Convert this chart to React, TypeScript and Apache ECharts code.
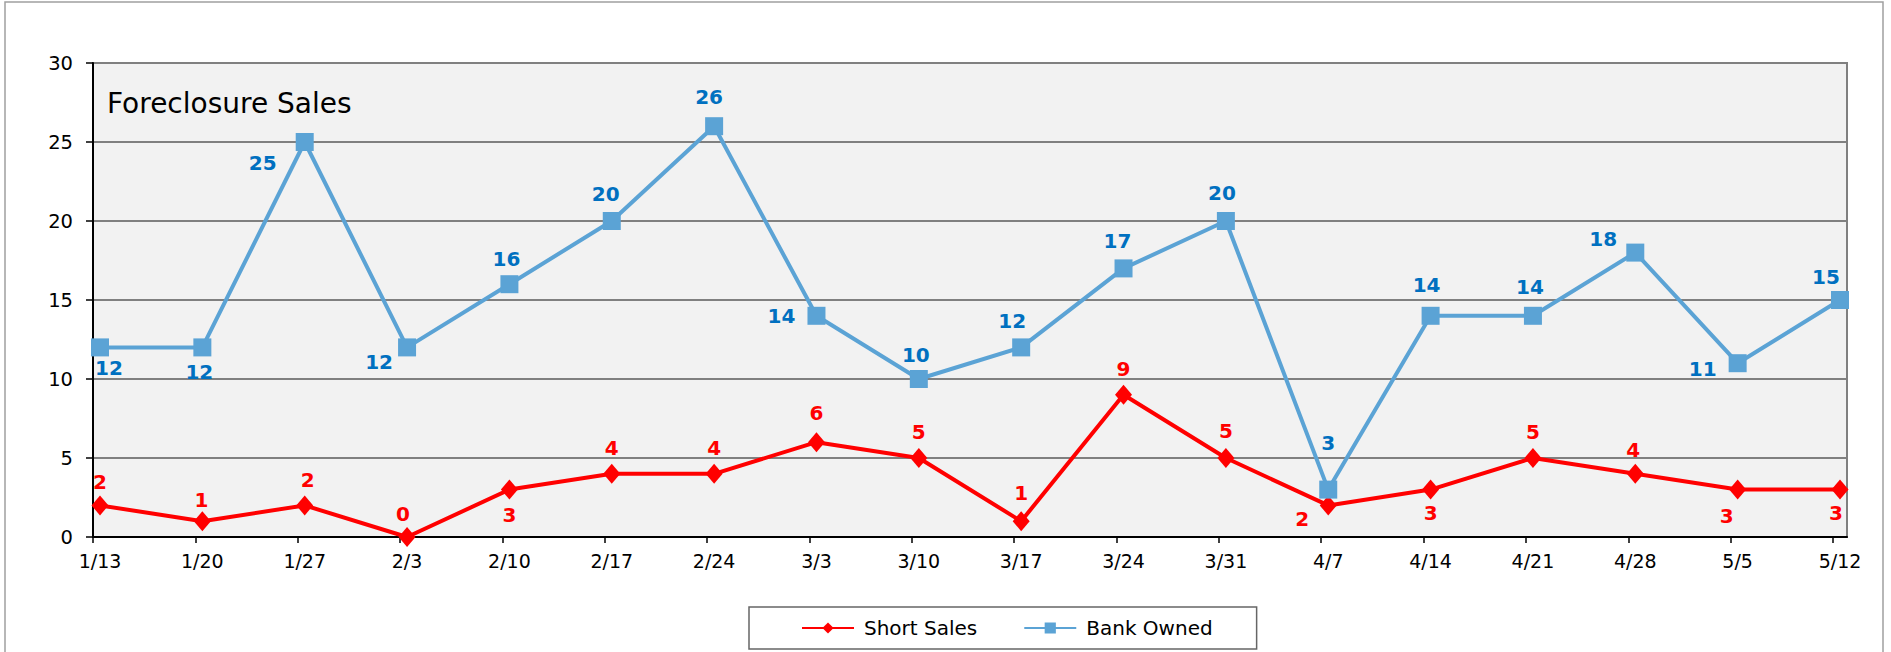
import React, { useEffect, useRef } from "react";
import * as echarts from "echarts";

const categories = ["1/13", "1/20", "1/27", "2/3", "2/10", "2/17", "2/24", "3/3", "3/10", "3/17", "3/24", "3/31", "4/7", "4/14", "4/21", "4/28", "5/5", "5/12"];
const shortSales = [2, 1, 2, 0, 3, 4, 4, 6, 5, 1, 9, 5, 2, 3, 5, 4, 3, 3];
const bankOwned = [12, 12, 25, 12, 16, 20, 26, 14, 10, 12, 17, 20, 3, 14, 14, 18, 11, 15];
const yTicks = { min: 0, max: 30, interval: 5 };

// label offsets (style only) relative to each marker centre
const shortLabelOffsets: [number, number][] = [
  [0, -23], [-1, -21], [3, -25], [-4, -23], [0, 25], [0, -26], [0, -26], [0, -29], [0, -26],
  [0, -28], [0, -26], [0, -27], [-26, 14], [0, 23], [0, -26], [-2, -24], [-11, 26], [-4, 23],
];
const bankLabelOffsets: [number, number][] = [
  [9, 21], [-3, 25], [-42, 21], [-28, 15], [-3, -25], [-6, -27], [-5, -29], [-35, 0], [-3, -24],
  [-9, -26], [-6, -27], [-4, -28], [0, -47], [-4, -31], [-3, -29], [-32, -14], [-35, 6], [-14, -23],
];

const FONT = "'DejaVu Sans', 'Noto Sans', sans-serif";

export default function App() {
  const ref = useRef<HTMLDivElement>(null);
  useEffect(() => {
    document.body.style.margin = "0";
    if (!ref.current) return;
    const chart = echarts.init(ref.current, undefined, { renderer: "svg" });
    const labelBase = {
      show: true,
      position: "inside",
      fontSize: 20,
      fontWeight: "bold" as const,
      fontFamily: FONT,
      textBorderWidth: 0,
    };
    chart.setOption({
      animation: false,
      textStyle: { fontFamily: FONT },
      title: {
        text: "Foreclosure Sales",
        left: 107,
        top: 89,
        padding: 0,
        textStyle: { fontSize: 28, fontWeight: "normal", color: "#000", fontFamily: FONT },
      },
      legend: {
        left: 749,
        top: 607,
        borderColor: "#666",
        borderWidth: 1.5,
        padding: [11, 44, 11, 52],
        itemGap: 46,
        itemWidth: 52,
        itemHeight: 14,
        textStyle: { fontSize: 20, color: "#000", fontFamily: FONT, padding: [0, 0, 0, 5] },
        data: ["Short Sales", "Bank Owned"],
      },
      graphic: [
        {
          type: "rect",
          silent: true,
          z: -10,
          shape: { x: 5, y: 2, width: 1878, height: 700 },
          style: { fill: "none", stroke: "#a0a0a0", lineWidth: 1.5 },
        },
      ],
      grid: [
        { left: 93, top: 63, width: 1754, height: 474, show: true, backgroundColor: "#f2f2f2", borderColor: "#808080", borderWidth: 2 },
        { left: 100, top: 63, width: 1740, height: 474 },
        { left: 93, top: 63, width: 1740, height: 474 },
      ],
      xAxis: [
        {
          gridIndex: 0, type: "category", data: categories, boundaryGap: false,
          axisLine: { show: true, lineStyle: { color: "#000", width: 2 } },
          axisTick: { show: false }, axisLabel: { show: false },
        },
        {
          gridIndex: 1, type: "category", data: categories, boundaryGap: false,
          axisLine: { show: false }, axisTick: { show: false },
          axisLabel: { fontSize: 19, color: "#000", margin: 14, fontFamily: FONT },
        },
        {
          gridIndex: 2, type: "category", data: categories, boundaryGap: false,
          axisLine: { show: false },
          axisTick: { show: true, length: 6, lineStyle: { color: "#000", width: 1.5 } },
          axisLabel: { show: false },
        },
      ],
      yAxis: [
        {
          gridIndex: 0, type: "value", ...yTicks,
          axisLine: { show: true, lineStyle: { color: "#000", width: 2 } },
          axisTick: { show: true, length: 7, lineStyle: { color: "#000", width: 1.5 } },
          axisLabel: { fontSize: 19.5, color: "#000", margin: 20, fontFamily: FONT },
          splitLine: { show: true, lineStyle: { color: "#808080", width: 2 } },
        },
        { gridIndex: 1, type: "value", ...yTicks, show: false, splitLine: { show: false } },
        { gridIndex: 2, type: "value", ...yTicks, show: false, splitLine: { show: false } },
      ],
      series: [
        {
          name: "Short Sales",
          type: "line",
          xAxisIndex: 1,
          yAxisIndex: 1,
          symbol: "diamond",
          symbolSize: [17, 20],
          color: "#ff0000",
          lineStyle: { width: 4, color: "#ff0000" },
          itemStyle: { color: "#ff0000" },
          label: { ...labelBase, color: "#ff0000" },
          data: shortSales.map((v, i) => ({ value: v, label: { offset: shortLabelOffsets[i] } })),
        },
        {
          name: "Bank Owned",
          type: "line",
          xAxisIndex: 1,
          yAxisIndex: 1,
          symbol: "rect",
          symbolSize: 18,
          color: "#5ba3d5",
          lineStyle: { width: 4, color: "#5ba3d5" },
          itemStyle: { color: "#5ba3d5" },
          label: { ...labelBase, color: "#0070c0" },
          data: bankOwned.map((v, i) => ({ value: v, label: { offset: bankLabelOffsets[i] } })),
        },
      ],
    });
    return () => chart.dispose();
  }, []);
  return <div ref={ref} style={{ width: 1891, height: 652 }} />;
}
